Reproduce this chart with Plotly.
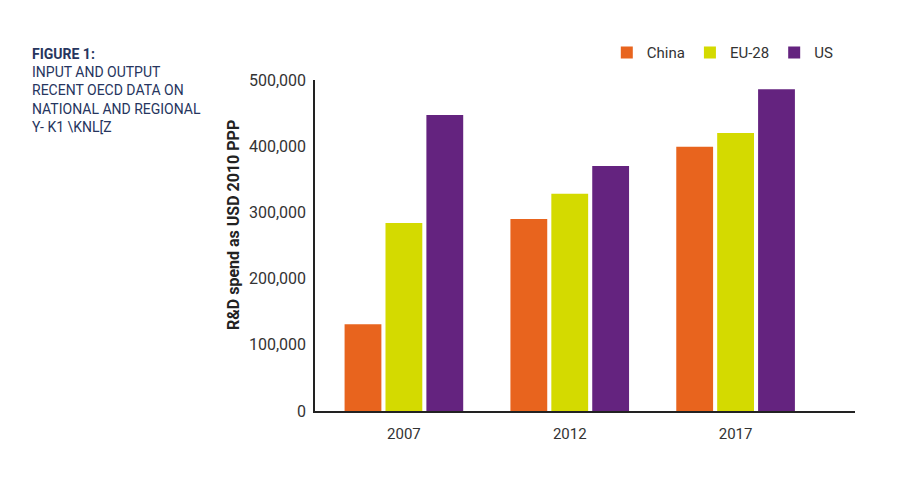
import plotly.graph_objects as go

years = ["2007", "2012", "2017"]
series_names = ["China", "EU-28", "US"]
china = [131000, 290000, 399000]
eu28 = [284000, 328000, 420000]
us = [447000, 370000, 486000]
colors = ["#E8641E", "#D4DA00", "#64237F"]
y_ticks = [0, 100000, 200000, 300000, 400000, 500000]

fig = go.Figure()
for name, vals, c in zip(series_names, [china, eu28, us], colors):
    fig.add_trace(go.Bar(x=years, y=vals, name=name, marker=dict(color=c, line=dict(width=0))))

font_narrow = "Roboto, sans-serif"

fig.update_layout(
    width=914, height=496,
    margin=dict(l=315, r=59, t=80, b=85),
    paper_bgcolor="white", plot_bgcolor="white",
    barmode="group", bargap=0.26, bargroupgap=0.1,
    font=dict(family=font_narrow, size=15, color="#333333"),
    legend=dict(orientation="h", x=0.97, xanchor="right", y=1.082, yanchor="middle",
                font=dict(size=15, color="#333333"), itemwidth=30, traceorder="normal"),
    xaxis=dict(type="category", range=[-0.536, 2.72], showline=True, linecolor="#222222",
               linewidth=1.5, ticks="", showgrid=False, ticklabelstandoff=8,
               tickfont=dict(size=15, color="#333333")),
    yaxis=dict(range=[0, 500000], tickvals=y_ticks, tickformat=",d", showline=True,
               linecolor="#222222", linewidth=1.5, showgrid=False, zeroline=False, ticks="",
               ticklen=0, ticklabelstandoff=4, tickfont=dict(size=16, color="#333333")),
)

fig.add_annotation(xref="paper", yref="paper", x=-0.152, y=(411 - 225) / 331,
                   xanchor="center", yanchor="middle", textangle=-90, showarrow=False,
                   text="<b>R&D spend as USD 2010 PPP</b>",
                   font=dict(family="Roboto, sans-serif", size=16, color="#222222"))

fig.add_annotation(xref="paper", yref="paper", x=-0.527, y=(411 - 44) / 331, xanchor="left", yanchor="top",
                   align="left", showarrow=False,
                   text="<b>FIGURE 1:</b><br>INPUT AND OUTPUT<br>RECENT OECD DATA ON<br>NATIONAL AND REGIONAL<br>Y- K1 \\KNL[Z",
                   font=dict(family=font_narrow, size=14, color="#26355E"))

fig.write_html("out.html")
